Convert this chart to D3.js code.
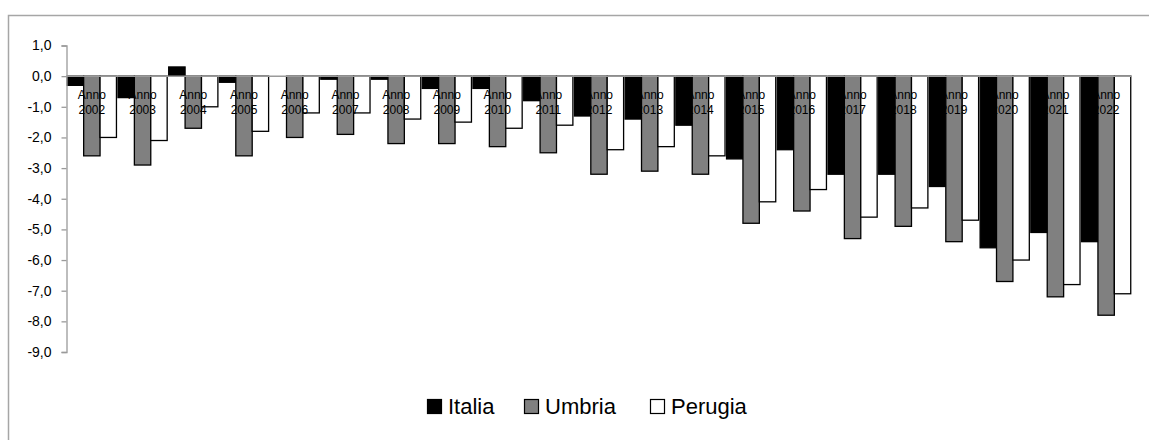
<!DOCTYPE html>
<html>
<head>
<meta charset="utf-8">
<script src="https://cdn.jsdelivr.net/npm/d3@7"></script>
<style>
  html, body { margin: 0; padding: 0; background: #fff; }
  svg { display: block; font-family: "Liberation Sans", Arial, sans-serif; }
</style>
</head>
<body>
<svg id="chart" width="1149" height="440"></svg>
<script>
// Annual values per area
const years = ["2002","2003","2004","2005","2006","2007","2008","2009","2010","2011","2012",
               "2013","2014","2015","2016","2017","2018","2019","2020","2021","2022"];
const italia  = [-0.3,-0.7, 0.3,-0.2, 0.0,-0.1,-0.1,-0.4,-0.4,-0.8,-1.3,-1.4,-1.6,-2.7,-2.4,-3.2,-3.2,-3.6,-5.6,-5.1,-5.4];
const umbria  = [-2.6,-2.9,-1.7,-2.6,-2.0,-1.9,-2.2,-2.2,-2.3,-2.5,-3.2,-3.1,-3.2,-4.8,-4.4,-5.3,-4.9,-5.4,-6.7,-7.2,-7.8];
const perugia = [-2.0,-2.1,-1.0,-1.8,-1.2,-1.2,-1.4,-1.5,-1.7,-1.6,-2.4,-2.3,-2.6,-4.1,-3.7,-4.6,-4.3,-4.7,-6.0,-6.8,-7.1];
const seriesNames = ["Italia","Umbria","Perugia"];
const seriesFill = ["#000000","#808080","#ffffff"];
const yTicks = [1,0,-1,-2,-3,-4,-5,-6,-7,-8,-9];

const series = [italia, umbria, perugia];
const svg = d3.select("#chart");

// outer chart frame
svg.append("rect")
  .attr("x", 8.5).attr("y", 15.5)
  .attr("width", 1200).attr("height", 500)
  .attr("fill", "none").attr("stroke", "#a6a6a6").attr("stroke-width", 1.5);

const y = d3.scaleLinear().domain([-9, 1]).range([352, 45.5]);
const x = d3.scaleBand().domain(years).range([66.5, 1131.5]).paddingInner(0.03).paddingOuter(0.015);
const xs = d3.scaleBand().domain(seriesNames).range([0, x.bandwidth()]);

// bars
const groups = svg.append("g").selectAll("g")
  .data(years)
  .join("g")
  .attr("transform", d => `translate(${x(d)},0)`);

groups.selectAll("rect")
  .data((d, i) => seriesNames.map((s, k) => ({ s, k, v: series[k][i] })))
  .join("rect")
  .attr("x", d => xs(d.s))
  .attr("width", xs.bandwidth())
  .attr("y", d => y(Math.max(0, d.v)))
  .attr("height", d => Math.abs(y(d.v) - y(0)))
  .attr("fill", d => seriesFill[d.k])
  .attr("stroke", "#000")
  .attr("stroke-width", d => d.v === 0 ? 0 : 1.3);

// y axis
const yAxis = d3.axisLeft(y)
  .tickValues(yTicks)
  .tickSize(5)
  .tickFormat(d => d3.format(".1f")(d).replace(".", ",").replace("−", "-"));
const ya = svg.append("g").attr("transform", "translate(66.5,0)").call(yAxis);
ya.select(".domain").attr("stroke", "#9a9a9a").attr("stroke-width", 1.3);
ya.selectAll(".tick line").attr("stroke", "#9a9a9a").attr("stroke-width", 1.3);
ya.selectAll(".tick text")
  .attr("x", -15)
  .attr("fill", "#000")
  .style("font-size", "14px")
  .style("font-family", "'Liberation Sans', Arial, sans-serif");

// zero baseline
svg.append("line")
  .attr("x1", 66.5).attr("x2", 1132)
  .attr("y1", y(0)).attr("y2", y(0))
  .attr("stroke", "#9a9a9a").attr("stroke-width", 1.5);

// category labels just below the baseline
const labels = svg.append("g").selectAll("text")
  .data(years)
  .join("text")
  .attr("text-anchor", "middle")
  .attr("font-size", 12)
  .attr("fill", "#000");
labels.append("tspan")
  .attr("x", d => x(d) + x.bandwidth() / 2)
  .attr("y", 98.5)
  .text("Anno");
labels.append("tspan")
  .attr("x", d => x(d) + x.bandwidth() / 2)
  .attr("y", 113.5)
  .text(d => d);

// legend
const legendX = [427, 524, 650];
const legend = svg.append("g").selectAll("g")
  .data(seriesNames)
  .join("g")
  .attr("transform", (d, i) => `translate(${legendX[i]},399)`);
legend.append("rect")
  .attr("x", 0.5).attr("y", 0.5)
  .attr("width", 14).attr("height", 14)
  .attr("fill", (d, i) => seriesFill[i])
  .attr("stroke", "#000").attr("stroke-width", 1.2);
legend.append("text")
  .attr("x", 21).attr("y", 15)
  .attr("font-size", 22)
  .attr("fill", "#000")
  .text(d => d);
</script>
</body>
</html>
